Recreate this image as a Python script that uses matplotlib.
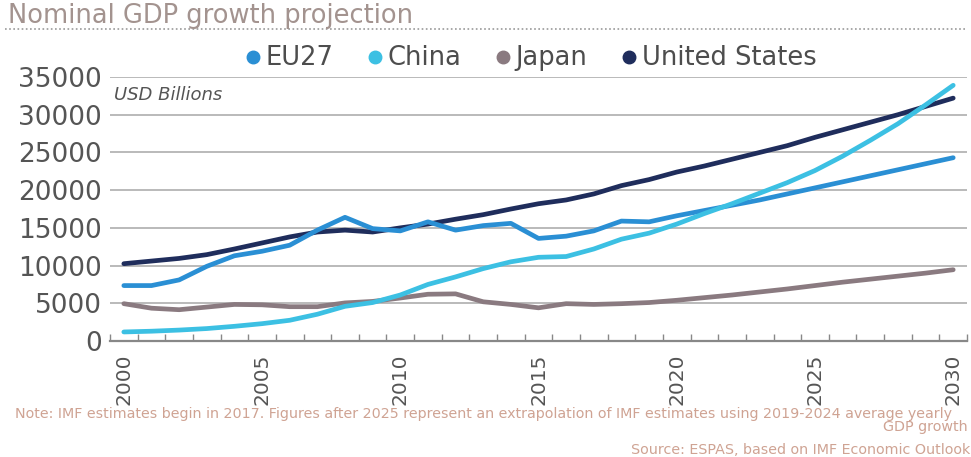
import matplotlib
matplotlib.use("Agg")
import matplotlib.pyplot as plt
from matplotlib.lines import Line2D
from matplotlib.ticker import FixedLocator

years = list(range(2000, 2031))
eu27 = [7.35, 7.35, 8.1, 9.9, 11.3, 11.9, 12.7, 14.7, 16.4, 14.9, 14.6, 15.8, 14.7, 15.3, 15.6,
        13.6, 13.9, 14.6, 15.9, 15.8, 16.6, 17.3, 18.0, 18.7, 19.5, 20.3, 21.1, 21.9, 22.7, 23.5, 24.3]
china = [1.2, 1.3, 1.45, 1.65, 1.95, 2.3, 2.75, 3.55, 4.6, 5.1, 6.1, 7.5, 8.5, 9.6, 10.5,
         11.1, 11.2, 12.2, 13.5, 14.3, 15.5, 16.9, 18.2, 19.6, 21.0, 22.6, 24.5, 26.6, 28.8, 31.3, 33.9]
japan = [4.95, 4.35, 4.15, 4.5, 4.85, 4.8, 4.55, 4.55, 5.05, 5.25, 5.7, 6.2, 6.25, 5.2, 4.85,
         4.4, 4.95, 4.85, 4.95, 5.1, 5.4, 5.75, 6.1, 6.5, 6.9, 7.35, 7.8, 8.2, 8.6, 9.0, 9.45]
usa = [10.25, 10.6, 10.95, 11.45, 12.2, 13.0, 13.8, 14.45, 14.7, 14.45, 15.0, 15.5, 16.15, 16.75, 17.5,
       18.2, 18.7, 19.5, 20.6, 21.4, 22.4, 23.2, 24.1, 25.0, 25.9, 27.0, 28.0, 29.0, 30.0, 31.1, 32.2]
series_names = ["EU27", "China", "Japan", "United States"]
series_vals = [eu27, china, japan, usa]
colors = ["#2a8fd4", "#3cc0e3", "#8a7a80", "#1f2d5c"]
zorders = [4, 5, 3, 2]
yticks = [0, 5000, 10000, 15000, 20000, 25000, 30000, 35000]
xlabel_years = [2000, 2005, 2010, 2015, 2020, 2025, 2030]

fig = plt.figure(figsize=(9.71, 4.57), dpi=100)
ax = fig.add_axes([0.1133, 0.2538, 0.9959 - 0.1133, 0.8315 - 0.2538])

x = list(range(len(years)))
for name, vals, c, z in zip(series_names, series_vals, colors, zorders):
    ax.plot(x, [v * 1000 for v in vals], color=c, lw=3.4, zorder=z,
            solid_capstyle="round", solid_joinstyle="round")

ax.set_xlim(-0.5, len(years) - 0.5)
ax.set_ylim(0, 35000)
ax.set_yticks(yticks)
ax.set_yticklabels([str(t) for t in yticks], fontsize=19, color="#555555", family="DejaVu Sans")
ax.tick_params(axis="y", length=0, pad=6)
ax.grid(axis="y", color="#b4b4b4", lw=1.3, zorder=0)
ax.set_axisbelow(True)

ax.set_xticks([years.index(y) for y in xlabel_years])
ax.set_xticklabels([str(y) for y in xlabel_years], rotation=90, fontsize=14.5,
                   color="#555555", family="DejaVu Sans")
ax.tick_params(axis="x", which="major", length=0, pad=9)
ax.xaxis.set_minor_locator(FixedLocator([i - 0.5 for i in range(len(years) + 1)]))
ax.tick_params(axis="x", which="minor", direction="in", length=5, width=1, color="#888888")

for s in ["top", "right", "left"]:
    ax.spines[s].set_visible(False)
ax.spines["bottom"].set_color("#888888")
ax.spines["bottom"].set_linewidth(1.6)

handles = [Line2D([], [], marker="o", ls="none", color=c, markersize=9) for c in colors]
fig.legend(handles, series_names, loc="center", bbox_to_anchor=(0.544, 0.872), ncol=4,
           frameon=False, handletextpad=0.0, columnspacing=1.1,
           labelcolor="#4d4d4d", handlelength=1.0, prop={"family": "DejaVu Sans", "size": 18.5})

fig.text(0.008, 0.965, "Nominal GDP growth projection", fontsize=18.5, color="#a3938f",
         ha="left", va="center", family="DejaVu Sans")
fig.add_artist(Line2D([0.005, 0.995], [0.936, 0.936], transform=fig.transFigure,
                      color="#999999", lw=1.2, ls=(0, (1, 1.5))))
fig.text(0.117, 0.792, "USD Billions", fontsize=13, style="italic", color="#555555",
         ha="left", va="center", family="DejaVu Sans")

note_color = "#cfa393"
fig.text(0.015, 0.094, "Note: IMF estimates begin in 2017. Figures after 2025 represent an extrapolation "
         "of IMF estimates using 2019-2024 average yearly", fontsize=10.3, color=note_color,
         ha="left", va="center", family="DejaVu Sans")
fig.text(0.997, 0.065, "GDP growth", fontsize=10.3, color=note_color, ha="right", va="center",
         family="DejaVu Sans")
fig.text(0.999, 0.016, "Source: ESPAS, based on IMF Economic Outlook", fontsize=10.3, color=note_color,
         ha="right", va="center", family="DejaVu Sans")

fig.savefig("out.png", dpi=100)
